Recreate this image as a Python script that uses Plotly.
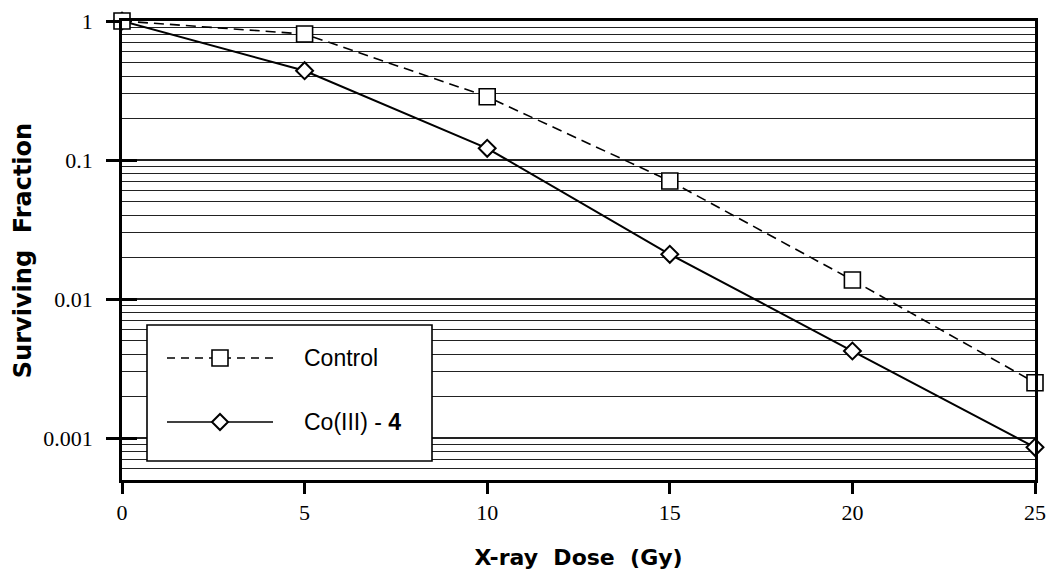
import math
import plotly.graph_objects as go

# ---- data ----
dose = [0, 5, 10, 15, 20, 25]
control = [1.0, 0.806, 0.2855, 0.0707, 0.01372, 0.002505]
co3 = [1.0, 0.439, 0.1215, 0.0210, 0.004233, 0.000859]
series_names = ["Control", "Co(III) - <b>4</b>"]
x_tickvals = [0, 5, 10, 15, 20, 25]
y_tickvals = [0.001, 0.01, 0.1, 1]
y_ticktext = ["0.001", "0.01", "0.1", "1"]
y_min, y_max = 0.0005, 1.0

minor_vals = [m * 10.0 ** e for e in range(-4, 1) for m in range(2, 10)]
yrange = [math.log10(y_min), math.log10(y_max)]

fig = go.Figure()

fig.add_trace(go.Scatter(
    x=dose, y=co3, name="Co(III) - 4", mode="lines+markers",
    line=dict(color="black", width=2),
    marker=dict(symbol="diamond", size=13, color="white",
                line=dict(color="black", width=2)),
    cliponaxis=False, showlegend=False, yaxis="y",
))
fig.add_trace(go.Scatter(
    x=dose, y=control, name="Control", mode="lines+markers",
    line=dict(color="black", width=1.6, dash="10px,6px"),
    marker=dict(symbol="square", size=16, color="white",
                line=dict(color="black", width=1.6)),
    cliponaxis=False, showlegend=False, yaxis="y2",
))

tick_font = dict(family="Liberation Serif", size=22, color="black")

fig.update_layout(
    width=1048, height=578,
    margin=dict(l=122, r=13, t=21, b=98, autoexpand=False),
    paper_bgcolor="white", plot_bgcolor="white",
    showlegend=False,
    xaxis=dict(
        range=[0, 25], tickvals=x_tickvals, ticks="outside", ticklen=11,
        tickwidth=2.5, tickcolor="black", showgrid=False, zeroline=False,
        showline=True, linecolor="black", linewidth=2.5, mirror=True,
        tickfont=tick_font, automargin=False,
        title=dict(text="X-ray  Dose  (Gy)",
                   font=dict(family="DejaVu Sans", size=22, color="black", weight="bold"),
                   standoff=26),
    ),
    yaxis=dict(
        type="log", range=yrange, tickvals=y_tickvals, ticktext=y_ticktext,
        ticks="outside", ticklen=13, tickwidth=2.5, tickcolor="black",
        ticklabelstandoff=9,
        showgrid=True, gridcolor="#222222", gridwidth=1.5,
        minor=dict(tickvals=minor_vals, showgrid=True, gridcolor="#222222",
                   gridwidth=1.4, ticks=""),
        showline=True, linecolor="black", linewidth=2.5, mirror=True,
        zeroline=False, tickfont=tick_font, automargin=False,
        title=dict(text="Surviving  Fraction",
                   font=dict(family="DejaVu Sans", size=24, color="black", weight="bold"),
                   standoff=5),
    ),
    yaxis2=dict(
        type="log", range=yrange, overlaying="y", side="left",
        tickvals=y_tickvals, ticks="inside", ticklen=15, tickwidth=2.5,
        tickcolor="black", showticklabels=False, showgrid=False,
        showline=False, zeroline=False, automargin=False,
    ),
)

# ---- hand-drawn legend box (paper coordinates) ----
W, H = 913.0, 459.0
def px(xp):
    return (xp - 122) / W
def py(yp):
    return (480 - yp) / H

box = dict(type="rect", xref="paper", yref="paper",
           x0=px(147), x1=px(432), y0=py(461), y1=py(325),
           line=dict(color="black", width=1.6), fillcolor="white", layer="above")
rows = [358, 422]
shapes = [box]
# control sample
shapes.append(dict(type="line", xref="paper", yref="paper",
                   x0=px(167), x1=px(273), y0=py(rows[0]), y1=py(rows[0]),
                   line=dict(color="black", width=1.5, dash="8px,6px")))
shapes.append(dict(type="rect", xref="paper", yref="paper",
                   xsizemode="pixel", ysizemode="pixel",
                   xanchor=px(220), yanchor=py(rows[0]),
                   x0=-8, x1=8, y0=-8, y1=8,
                   line=dict(color="black", width=1.6), fillcolor="white"))
# co sample
shapes.append(dict(type="line", xref="paper", yref="paper",
                   x0=px(167), x1=px(273), y0=py(rows[1]), y1=py(rows[1]),
                   line=dict(color="black", width=1.5)))
shapes.append(dict(type="path", xref="paper", yref="paper",
                   xsizemode="pixel", ysizemode="pixel",
                   xanchor=px(220), yanchor=py(rows[1]),
                   path="M -8 0 L 0 8 L 8 0 L 0 -8 Z",
                   line=dict(color="black", width=2), fillcolor="white"))
fig.update_layout(shapes=shapes)

for name, r in zip(series_names, rows):
    fig.add_annotation(
        text=name, xref="paper", yref="paper", x=px(302), y=py(r),
        xanchor="left", yanchor="middle", showarrow=False,
        font=dict(family="Liberation Sans", size=23, color="black"),
    )

fig.write_html(
    "out.html",
    config={"displayModeBar": False},
    post_script="document.body.style.margin='0';document.body.style.overflow='hidden';",
)
